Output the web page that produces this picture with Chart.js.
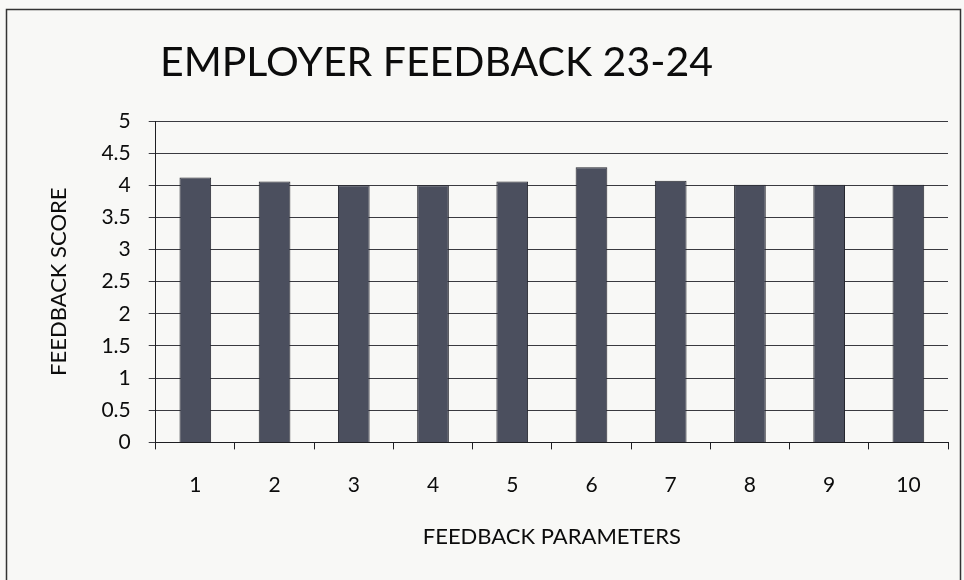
<!DOCTYPE html>
<html>
<head>
<meta charset="utf-8">
<script src="https://cdn.jsdelivr.net/npm/chart.js@4/dist/chart.umd.min.js"></script>
<style>
  html, body { margin: 0; padding: 0; background: #f8f8f6; }
  #wrap { position: relative; width: 964px; height: 580px; }
</style>
</head>
<body>
<div id="wrap"><canvas id="feedbackChart" width="964" height="580"></canvas></div>
<script>
// Employer feedback scores per parameter.
const PARAMETERS = ['1', '2', '3', '4', '5', '6', '7', '8', '9', '10'];
const SCORES = [4.12, 4.06, 4.0, 4.0, 4.06, 4.28, 4.07, 4.01, 4.01, 4.01];
const TITLE = 'EMPLOYER FEEDBACK 23-24';

const INK = '#1e1e22';
const FONT = 'Lato';

// thin frame around the whole chart, plus the big title (sits off-centre in the original)
const framePlugin = {
  id: 'frame',
  beforeDraw(chart) {
    const { ctx } = chart;
    ctx.save();
    ctx.strokeStyle = '#333';
    ctx.lineWidth = 1.5;
    ctx.strokeRect(6.5, 9.5, 954, 580);
    ctx.fillStyle = '#0c0c0c';
    ctx.font = '41px Lato, sans-serif';
    ctx.textBaseline = 'middle';
    ctx.textAlign = 'left';
    ctx.fillText(TITLE, 160, 63);
    ctx.restore();
  }
};

new Chart(document.getElementById('feedbackChart').getContext('2d'), {
  type: 'bar',
  data: {
    labels: PARAMETERS,
    datasets: [{
      label: 'Feedback score',
      data: SCORES,
      backgroundColor: '#4b4f5e',
      borderColor: '#25262e',
      borderWidth: 1,
      barPercentage: 0.8,
      categoryPercentage: 0.5,
    }]
  },
  options: {
    responsive: false,
    animation: false,
    layout: { padding: { left: 42, right: 16, top: 121, bottom: 26 } },
    plugins: {
      legend: { display: false },
      tooltip: { enabled: false },
      title: { display: false }
    },
    scales: {
      x: {
        offset: true,
        border: { display: true, color: INK, width: 1 },
        grid: { display: true, offset: true, drawOnChartArea: false, drawTicks: true, tickLength: 7, color: INK },
        ticks: { color: '#0c0c0c', padding: 23, font: { family: FONT, size: 21 } },
        title: {
          display: true,
          text: 'FEEDBACK PARAMETERS',
          color: '#0c0c0c',
          font: { family: FONT, size: 22 },
          padding: { top: 3, bottom: 4 },
        }
      },
      y: {
        min: 0,
        max: 5,
        border: { display: true, color: INK, width: 1 },
        grid: { color: '#3a3a40', lineWidth: 1, drawTicks: true, tickLength: 7 },
        ticks: {
          stepSize: 0.5,
          color: '#0c0c0c',
          padding: 18,
          font: { family: FONT, size: 21 },
          callback: (v) => String(v),
        },
        title: {
          display: true,
          text: 'FEEDBACK SCORE',
          color: '#0c0c0c',
          font: { family: FONT, size: 22 },
          padding: { top: 4, bottom: 11 },
        }
      }
    }
  },
  plugins: [framePlugin]
});
</script>
</body>
</html>
